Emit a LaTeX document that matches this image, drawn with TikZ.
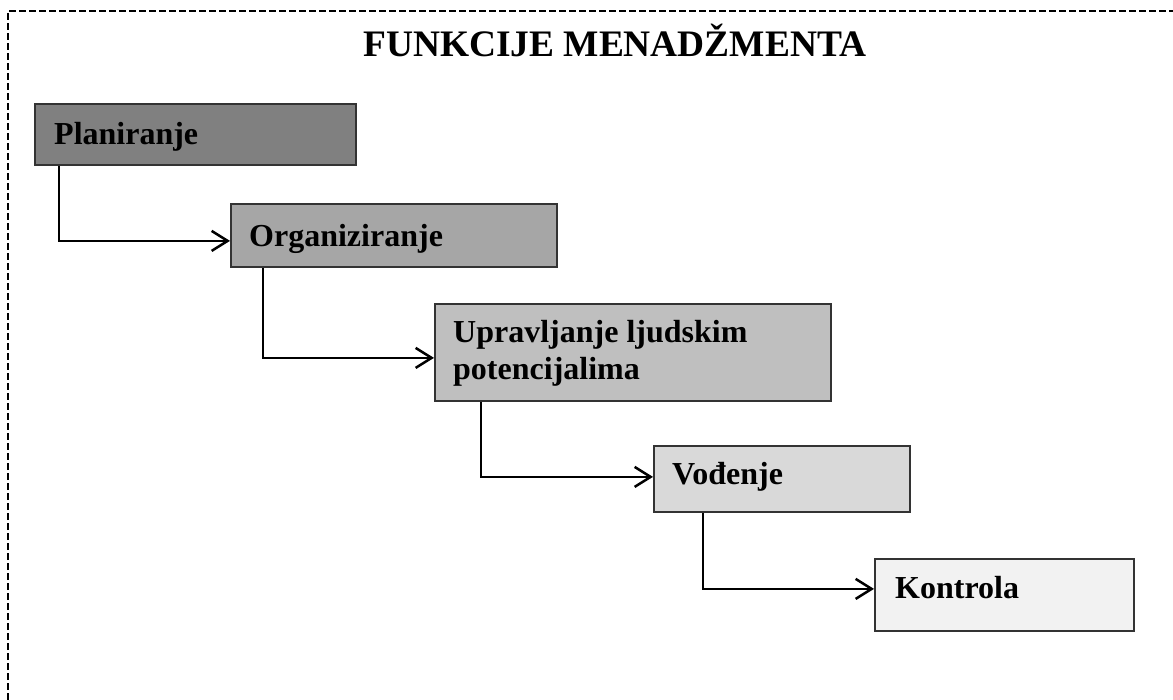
\documentclass[tikz,border=0pt]{standalone}
\usepackage{fontspec}
\setmainfont{Liberation Serif}
\usetikzlibrary{arrows.meta}
\definecolor{c1}{HTML}{808080}
\definecolor{c2}{HTML}{A6A6A6}
\definecolor{c3}{HTML}{BFBFBF}
\definecolor{c4}{HTML}{D9D9D9}
\definecolor{c5}{HTML}{F2F2F2}
\definecolor{edge}{HTML}{333333}
\tikzset{
  stagebox/.style={draw=edge, line width=1.8pt, rectangle, inner sep=0pt, anchor=north west},
  lbl/.style={anchor=base west, inner sep=0pt, font=\fontsize{32}{37}\selectfont\bfseries, align=left},
  flow/.style={draw=black, line width=2.5pt, -{Straight Barb[length=16pt,width=20pt,line width=2.5pt]}},
  frame/.style={draw=black, line width=2.5pt, dash pattern=on 7pt off 3pt}
}
\begin{document}
\begin{tikzpicture}[x=1pt,y=-1pt]
\useasboundingbox (0,0) rectangle (1173,700);
\draw[frame] (8,1000) -- (8,11) -- (1200,11);
\node[anchor=base west, inner sep=0pt, font=\fontsize{37.4}{40}\selectfont\bfseries] (title) at (363,57) {FUNKCIJE MENADŽMENTA};
\node[stagebox, fill=c1, minimum width=321pt, minimum height=61pt] (plan) at (34,103) {};
\node[stagebox, fill=c2, minimum width=326pt, minimum height=63pt] (org) at (230,203) {};
\node[stagebox, fill=c3, minimum width=396pt, minimum height=97pt] (upr) at (434,303) {};
\node[stagebox, fill=c4, minimum width=256pt, minimum height=66pt] (vod) at (653,445) {};
\node[stagebox, fill=c5, minimum width=259pt, minimum height=72pt] (kon) at (874,558) {};
\node[lbl] (tplan) at (54,145) {Planiranje};
\node[lbl] (torg) at (249,247) {Organiziranje};
\node[lbl] (tupr) at (453,380) {Upravljanje ljudskim\\potencijalima};
\node[lbl] (tvod) at (672,484) {Vođenje};
\node[lbl] (tkon) at (895,598) {Kontrola};
\draw[flow] ([xshift=25pt]plan.south west) |- ([yshift=-5.5pt]org.west);
\draw[flow] ([xshift=33pt]org.south west) |- ([yshift=-5.5pt]upr.west);
\draw[flow] ([xshift=47pt]upr.south west) |- ([yshift=2pt]vod.west);
\draw[flow] ([xshift=50pt]vod.south west) |- ([yshift=6pt]kon.west);
\end{tikzpicture}
\end{document}
